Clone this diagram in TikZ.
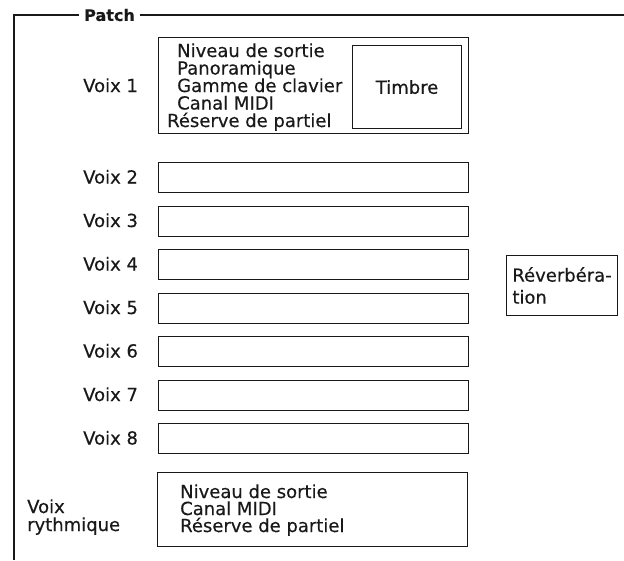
\documentclass[tikz,border=0pt]{standalone}
\usepackage{fontspec}
\setmainfont[FakeBold=0.4]{DejaVu Sans}
\usetikzlibrary{positioning}
\definecolor{ink}{RGB}{25,25,25}
\tikzset{
  slot/.style={draw=ink, line width=1.1pt, inner sep=0pt, anchor=north west},
  txt/.style={text=ink, inner sep=0pt, anchor=base west, font=\fontsize{18}{18}\selectfont},
  frameline/.style={draw=ink, line width=1.1pt},
}
\begin{document}
\begin{tikzpicture}[x=1pt, y=-1pt]
        \useasboundingbox (0,0) rectangle (624,560);
        % ===================== frame =====================
        \node[txt, anchor=west, font=\fontsize{16}{16}\bfseries] (patch) at (84,15) {Patch};
        \draw[frameline] (patch.west) ++(-5,0) -- (14,15) -- (14,560);
        \draw[frameline] (patch.east) ++(5,0) -- (624,15);
        % ===================== voix 1 =====================
        \node[txt] (lv1) at (83,92) {Voix 1};
        \node[slot, minimum width=310, minimum height=96] (v1) at (158,37) {};
        \node[slot, minimum width=109, minimum height=83] (timbre) at (352,45) {};
        \node[txt, anchor=center] (ttimbre) at (timbre.center) {Timbre};
        \node[txt] (p1) at (177,57) {Niveau de sortie};
        \node[txt] (p2) at (177,74.5) {Panoramique};
        \node[txt] (p3) at (177,92) {Gamme de clavier};
        \node[txt] (p4) at (177,109.5) {Canal MIDI};
        \node[txt] (p5) at (167,127) {Réserve de partiel};
        % ===================== voix 2 -- 8 =====================
        \node[txt] (lv2) at (83,183.5) {Voix 2};
        \node[slot, minimum width=310, minimum height=30] (v2) at (158,162) {};
        \node[txt] (lv3) at (83,227) {Voix 3};
        \node[slot, minimum width=310, minimum height=30] (v3) at (158,205.5) {};
        \node[txt] (lv4) at (83,270.5) {Voix 4};
        \node[slot, minimum width=310, minimum height=30] (v4) at (158,249) {};
        \node[txt] (lv5) at (83,314) {Voix 5};
        \node[slot, minimum width=310, minimum height=30] (v5) at (158,292.5) {};
        \node[txt] (lv6) at (83,357.5) {Voix 6};
        \node[slot, minimum width=310, minimum height=30] (v6) at (158,336) {};
        \node[txt] (lv7) at (83,401) {Voix 7};
        \node[slot, minimum width=310, minimum height=30] (v7) at (158,379.5) {};
        \node[txt] (lv8) at (83,444.5) {Voix 8};
        \node[slot, minimum width=310, minimum height=30] (v8) at (158,423) {};
        % ===================== reverb =====================
        \node[slot, minimum width=111, minimum height=60, align=left,
              font=\fontsize{18}{22}\selectfont, text=ink] (reverb) at (506,255) {Réverbéra-\\tion};
        % ===================== voix rythmique =====================
        \node[txt] (lr1) at (27,513) {Voix};
        \node[txt] (lr2) at (27,531) {rythmique};
        \node[slot, minimum width=310, minimum height=74] (vr) at (157,472) {};
        \node[txt] (r1) at (180,498) {Niveau de sortie};
        \node[txt] (r2) at (180,515) {Canal MIDI};
        \node[txt] (r3) at (180,532) {Réserve de partiel};
      \end{tikzpicture}
\end{document}
